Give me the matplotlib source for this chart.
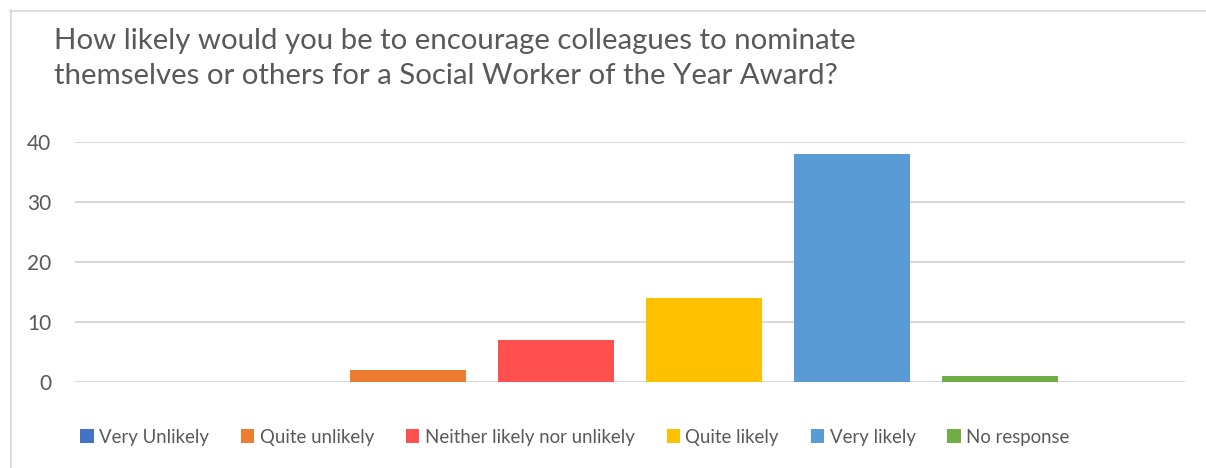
import matplotlib
matplotlib.use("Agg")
import matplotlib.pyplot as plt
from matplotlib.patches import Patch
from matplotlib.lines import Line2D

title = ("How likely would you be to encourage colleagues to nominate\n"
         "themselves or others for a Social Worker of the Year Award?")
categories = ["Very Unlikely", "Quite unlikely", "Neither likely nor unlikely",
              "Quite likely", "Very likely", "No response"]
values = [0, 2, 7, 14, 38, 1]
colors = ["#4472C4", "#ED7D31", "#FF5050", "#FFC000", "#5B9BD5", "#70AD47"]
yticks = [0, 10, 20, 30, 40]

W, H = 1206, 468
plt.rcParams["font.family"] = ["Lato", "DejaVu Sans"]
text_color = "#595959"
grid_color = "#D9D9D9"

fig = plt.figure(figsize=(W / 100, H / 100), dpi=100)
fig.patch.set_facecolor("white")

# chart-area frame (top and left edges)
fig.add_artist(Line2D([10 / W, 1], [1 - 10.5 / H, 1 - 10.5 / H],
                      transform=fig.transFigure, color=grid_color, lw=1.2))
fig.add_artist(Line2D([10.5 / W, 10.5 / W], [0, 1 - 10 / H],
                      transform=fig.transFigure, color=grid_color, lw=1.2))

fig.text(54 / W, 1 - 28 / H, title, ha="left", va="top", fontsize=21.2,
         color=text_color, linespacing=1.42)

left, right = 75, 1185
top, bottom = 142, 382
ax = fig.add_axes([left / W, 1 - bottom / H, (right - left) / W, (bottom - top) / H])

x = list(range(len(values)))
ax.bar(x, values, width=0.79, color=colors, zorder=3)
ax.set_xlim(-1.25, 6.25)
ax.set_ylim(0, 40)
ax.set_yticks(yticks)
ax.set_yticklabels([str(t) for t in yticks])
ax.set_xticks([])
ax.grid(axis="y", color=grid_color, lw=1.5, zorder=0)
ax.tick_params(axis="y", length=0, pad=17, labelsize=15, labelcolor=text_color)
for s in ax.spines.values():
    s.set_visible(False)
ax.axhline(0, color=grid_color, lw=1.5, zorder=2)

handles = [Patch(facecolor=c, edgecolor="none") for c in colors]
fig.legend(handles, categories, loc="center", bbox_to_anchor=(575 / W, 1 - 437 / H),
           ncol=len(categories), frameon=False, fontsize=13.4, labelcolor=text_color,
           handlelength=0.72, handleheight=0.72, handletextpad=0.3, columnspacing=1.7)

fig.savefig("out.png", dpi=100, facecolor="white")
